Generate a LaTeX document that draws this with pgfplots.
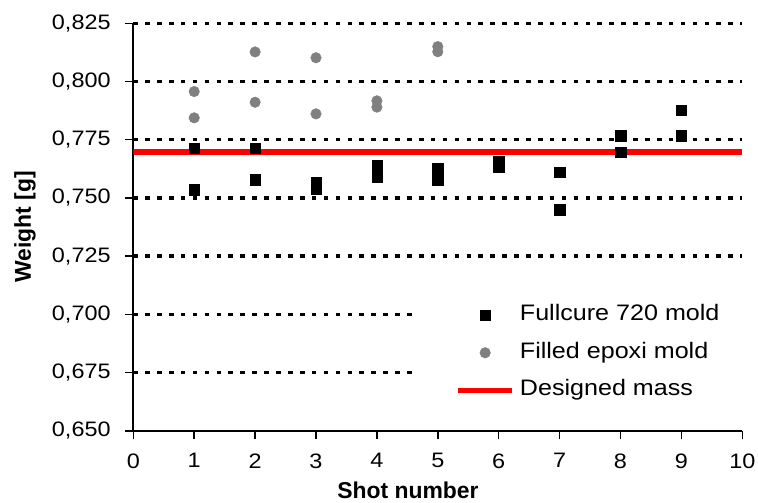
\documentclass[border=0pt]{standalone}
\usepackage{pgfplots}
\pgfplotsset{compat=1.18}
\usepackage{fontspec}
\setmainfont{Liberation Sans}[FakeStretch=1.12]
\newfontfamily\labfont{Liberation Sans}
\usetikzlibrary{calc}
\definecolor{ptgray}{RGB}{128,128,128}

\pgfplotsset{
  legimg/.style={legend image code/.code={%
    \draw[mark repeat=2,mark phase=2,##1] plot coordinates {(0bp,0bp) (27bp,0bp) (54bp,0bp)};}},
}

\begin{document}
\begin{tikzpicture}
\begin{axis}[
  name=ax,
  scale only axis,
  width=609bp, height=407.5bp,
  xmin=0, xmax=10,
  ymin=0.65, ymax=0.825,
  xtick={0,1,2,3,4,5,6,7,8,9,10},
  ytick={0.675,0.7,0.725,0.75,0.775,0.8,0.825},
  extra y ticks={0.65},
  extra y tick style={grid=none},
  /pgf/number format/assume math mode=true,
  yticklabel style={/pgf/number format/fixed, /pgf/number format/fixed zerofill,
    /pgf/number format/precision=3, /pgf/number format/use comma,
    inner sep=0pt, xshift=-14bp},
  axis lines*=left,
  axis line style={line width=1.6bp},
  tick align=outside,
  major tick length=8.5bp,
  tick style={line width=1.4bp, black},
  ymajorgrids,
  major grid style={line width=3.4bp, dash pattern=on 4.6bp off 7.3bp, black},
  tick label style={font=\fontsize{21}{25}\selectfont},
  xticklabel style={inner sep=0pt, yshift=-14bp},
  xlabel={Shot number},
  ylabel={Weight [g]},
  xlabel style={font=\labfont\bfseries\fontsize{23}{27}\selectfont, inner sep=0pt,
    at={(axis description cs:0.451,-0.1256)}, anchor=north},
  ylabel style={font=\labfont\bfseries\fontsize{23}{27}\selectfont, inner sep=0pt,
    at={(axis description cs:-0.1598,0.5)}, anchor=south},
  legend cell align=left,
  legend style={draw=none, fill=white, at={(axis cs:4.58,0.7085)}, anchor=north west,
    inner xsep=43bp, inner ysep=10bp, row sep=16.5bp, column sep=5bp,
    font=\fontsize{22.5}{26}\selectfont,
    nodes={inner sep=0pt, text height=16bp, text depth=5bp}},
]
% designed mass (drawn first so the squares sit on top)
\addplot[red, line width=5.5bp, forget plot] coordinates {(0,0.7697) (10,0.7697)};

\addplot[only marks, mark=square*, mark size=5.2bp, black,
  mark options={line width=0.4bp}, legimg] coordinates {
  (1,0.7714) (1,0.7535)
  (2,0.7714) (2,0.7578)
  (3,0.7566) (3,0.7538)
  (4,0.7638) (4,0.7590)
  (5,0.7628) (5,0.7578)
  (6,0.7657) (6,0.7635)
  (7,0.7611) (7,0.7449)
  (8,0.7767) (8,0.7697)
  (9,0.7878) (9,0.7767)
};
\addlegendentry{Fullcure 720 mold}

\addplot[only marks, mark=*, mark size=5.3bp, ptgray,
  mark options={line width=0.4bp, fill=ptgray}, legimg] coordinates {
  (1,0.7957) (1,0.7844)
  (2,0.8127) (2,0.7911)
  (3,0.8102) (3,0.7861)
  (4,0.7917) (4,0.7890)
  (5,0.8150) (5,0.8128)
};
\addlegendentry{Filled epoxi mold}

\addlegendimage{red, line width=5.5bp, legimg}
\addlegendentry{Designed mass}
\end{axis}
\pgfresetboundingbox
\path ($(ax.south west)+(-133.3bp,-72.2bp)$) rectangle ($(ax.south west)+(624.7bp,430.8bp)$);
\end{tikzpicture}
\end{document}
